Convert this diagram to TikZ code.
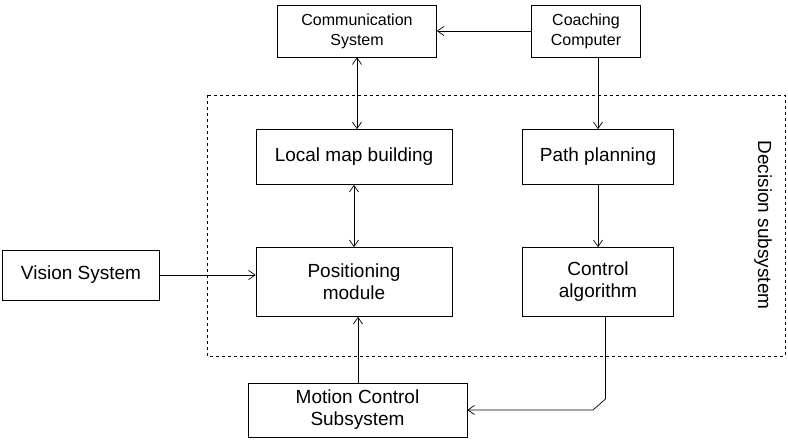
\documentclass[tikz,border=0pt]{standalone}
\usepackage{fontspec}
\setmainfont{Liberation Sans}
\usetikzlibrary{arrows.meta}
\begin{document}
\begin{tikzpicture}[x=1pt,y=-1pt,
  box/.style={draw,line width=0.7pt,minimum width=#1,align=center,inner sep=2pt},
  big/.style={font=\fontsize{19}{22}\selectfont},
  small/.style={font=\fontsize{16}{20}\selectfont},
  arr/.style={line width=0.7pt,-{Straight Barb[angle=70:8pt]}},
  darr/.style={line width=0.7pt,{Straight Barb[angle=70:8pt]}-{Straight Barb[angle=70:8pt]}}]
\useasboundingbox (0,0) rectangle (788,443);
\draw[dashed,line width=0.6pt] (207,95) rectangle (785,356);
\node[box=159pt,small,minimum height=52pt] (comm) at (357,31) {Communication\\System};
\node[box=109pt,small,minimum height=52pt] (coach) at (586,31) {Coaching\\Computer};
\node[box=196pt,big,minimum height=55pt] (lmb) at (354,157) {Local map building};
\node[box=151pt,big,minimum height=55pt] (pp) at (598,157) {Path planning};
\node[box=196pt,big,minimum height=69pt] (pos) at (354,282) {Positioning\\module};
\node[box=151pt,big,minimum height=69pt] (ca) at (598,282) {Control\\algorithm};
\node[box=157pt,big,minimum height=50pt] (vis) at (81,275) {Vision System};
\node[box=219pt,big,minimum height=54pt] (mcs) at (357.5,410) {Motion Control\\Subsystem};
\node[big,rotate=-90] (dec) at (763,225) {Decision subsystem};
\draw[arr] (coach) -- (comm);
\draw[arr] (coach.south -| pp.north) -- (pp);
\draw[darr] (comm) -- (lmb.north -| comm);
\draw[darr] (lmb) -- (pos);
\draw[arr] (pp) -- (ca);
\draw[arr] (vis) -- (pos.west |- vis);
\draw[arr] (mcs.north -| 358,0) -- (pos.south -| 358,0);
\coordinate (k1) at (605.5,399);
\coordinate (k2) at (593,410);
\draw[arr] (ca.south -| k1) -- (k1) -- (k2) -- (mcs.east |- k2);
\end{tikzpicture}
\end{document}
